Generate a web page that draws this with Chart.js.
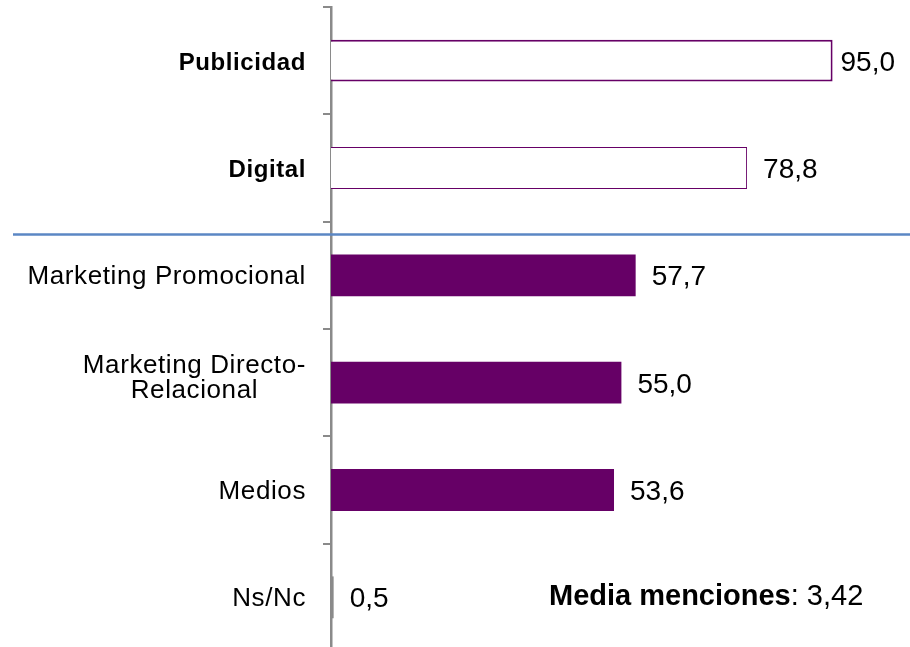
<!DOCTYPE html>
<html><head><meta charset="utf-8">
<script src="https://cdn.jsdelivr.net/npm/chart.js@4.4.1/dist/chart.umd.min.js"></script>
<style>html,body{margin:0;padding:0;background:#fff;overflow:hidden}#wrap{width:910px;height:662px}</style>
</head><body><div id="wrap"><canvas id="c"></canvas></div>
<script>
const categories = ["Publicidad", "Digital", "Marketing Promocional", ["Marketing Directo-", "Relacional"], "Medios", "Ns/Nc"];
const values = [95.0, 78.8, 57.7, 55.0, 53.6, 0.5];
const valueLabels = ["95,0", "78,8", "57,7", "55,0", "53,6", "0,5"];
const labelBold = [true, true, false, false, false, false];
const fillColors = ["#ffffff", "#ffffff", "#660066", "#660066", "#660066", "#8a8a8a"];
const borderColors = ["#660066", "#660066", "#660066", "#660066", "#660066", "#8a8a8a"];
const borderWidths = [2, 1, 0, 0, 0, 0];
const noteBold = "Media menciones";
const noteRest = ": 3,42";
const dividerPos = 1.62;

const FAM = '"Liberation Sans", Arial, sans-serif';

const overlay = {
  id: 'overlay',
  afterDraw(c){
    const ctx = c.ctx, y = c.scales.y, area = c.chartArea;
    const W = c.width;
    ctx.save();
    ctx.fillStyle = '#000';
    ctx.textBaseline = 'alphabetic';
    // category labels: lines centered inside a right-aligned block
    categories.forEach((lab, i) => {
      const lines = Array.isArray(lab) ? lab : [lab];
      const size = labelBold[i] ? 24 : 26;
      ctx.font = (labelBold[i] ? 'bold ' : '') + size + 'px ' + FAM;
      ctx.letterSpacing = '0.6px';
      const w = Math.max(...lines.map(l => ctx.measureText(l).width));
      const right = area.left - 25;
      const cx = right - w / 2;
      const cy = y.getPixelForValue(i);
      const lh = 25;
      ctx.textAlign = 'center';
      const n = lines.length;
      lines.forEach((l, k) => {
        ctx.fillText(l, cx, cy + 9 + (k - (n - 1) / 2) * lh - (n - 1) * 6);
      });
    });
    // value labels
    const meta = c.getDatasetMeta(0);
    ctx.textAlign = 'left';
    ctx.letterSpacing = '0px';
    ctx.font = '28px ' + FAM;
    meta.data.forEach((bar, i) => {
      const tw = ctx.measureText(valueLabels[i]).width;
      const px = Math.min(bar.x + 16, W - 15 - tw);
      ctx.fillText(valueLabels[i], px, bar.y + 10);
    });
    // divider line
    const dy = y.getPixelForValue(dividerPos);
    ctx.strokeStyle = '#5b87c4';
    ctx.lineWidth = 2.5;
    ctx.beginPath(); ctx.moveTo(13, dy); ctx.lineTo(W, dy); ctx.stroke();
    // note
    ctx.font = 'bold 29px ' + FAM;
    const nx = 549, ny = 605;
    ctx.fillText(noteBold, nx, ny);
    const bw = ctx.measureText(noteBold).width;
    ctx.font = '29px ' + FAM;
    ctx.fillText(noteRest, nx + bw, ny);
    ctx.restore();
  }
};

new Chart(document.getElementById('c'), {
  type: 'bar',
  data: {
    labels: categories,
    datasets: [{
      data: values,
      backgroundColor: fillColors,
      borderColor: borderColors,
      borderWidth: borderWidths,
      borderSkipped: 'start',
      barPercentage: 0.39,
      categoryPercentage: 1.0
    }]
  },
  options: {
    indexAxis: 'y',
    responsive: true,
    maintainAspectRatio: false,
    animation: false,
    layout: { padding: { top: 7, right: 51, bottom: 11, left: 0 } },
    plugins: { legend: { display: false }, tooltip: { enabled: false } },
    scales: {
      x: { min: 0, max: 100, display: false },
      y: {
        z: 1,
        offset: true,
        afterFit(s){ s.width = 331; },
        ticks: { display: false },
        grid: {
          offset: true,
          drawOnChartArea: false,
          drawTicks: true,
          tickLength: 8,
          color: '#8a8a8a',
          lineWidth: 2
        },
        border: { display: true, color: '#8a8a8a', width: 2.5 }
      }
    }
  },
  plugins: [overlay]
});
</script>
</body></html>
